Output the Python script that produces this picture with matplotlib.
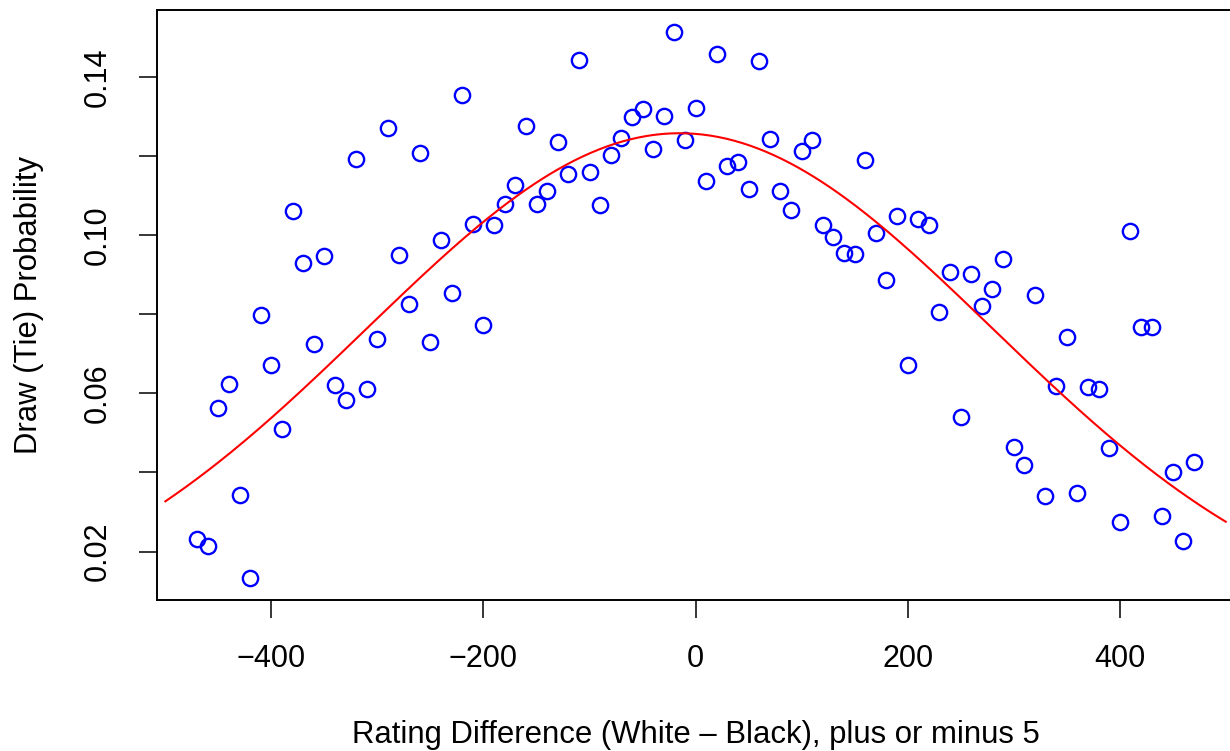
import numpy as np
import matplotlib
matplotlib.use("Agg")
import matplotlib.pyplot as plt

plt.rcParams['font.family'] = ['Liberation Sans', 'DejaVu Sans']

# rating difference bins (white - black), every 10 points
rating_diff = np.arange(-470, 471, 10)

# observed draw proportion in each bin
draw_prob = [
    0.0232, 0.0213, 0.0563, 0.0624, 0.0344, 0.0134, 0.0799, 0.0671, 0.0511, 0.1061,
    0.0930, 0.0726, 0.0947, 0.0621, 0.0583, 0.1193, 0.0612, 0.0737, 0.1271, 0.0951,
    0.0826, 0.1208, 0.0730, 0.0988, 0.0854, 0.1355, 0.1028, 0.0773, 0.1026, 0.1080,
    0.1126, 0.1277, 0.1080, 0.1112, 0.1235, 0.1154, 0.1444, 0.1161, 0.1076, 0.1202,
    0.1246, 0.1300, 0.1319, 0.1218, 0.1302, 0.1515, 0.1241, 0.1322, 0.1136, 0.1458,
    0.1176, 0.1184, 0.1116, 0.1440, 0.1243, 0.1111, 0.1064, 0.1214, 0.1241, 0.1027,
    0.0996, 0.0956, 0.0953, 0.1191, 0.1005, 0.0886, 0.1049, 0.0671, 0.1041, 0.1026,
    0.0805, 0.0906, 0.0541, 0.0902, 0.0821, 0.0864, 0.0939, 0.0465, 0.0418, 0.0848,
    0.0341, 0.0619, 0.0743, 0.0349, 0.0617, 0.0611, 0.0462, 0.0276, 0.1011, 0.0769,
    0.0769, 0.0290, 0.0400, 0.0228, 0.0426,
]

# fitted bell curve (peak height, centre, spread)
fit_peak = 0.1258
fit_mu = -15.0
fit_sd = 295.5

x_curve = np.linspace(-500, 500, 400)
y_curve = fit_peak * np.exp(-(x_curve - fit_mu) ** 2 / (2 * fit_sd ** 2))

fig = plt.figure(figsize=(12.3, 7.51), dpi=100)
ax = fig.add_axes([0.1279, 0.2017, 0.8752, 0.7853])

ax.plot(rating_diff, draw_prob, 'o', mfc='none', mec='#0000ff', ms=11, mew=1.7)
ax.plot(x_curve, y_curve, color='#ff0000', lw=1.5)

# R style axis limits: data range plus 4 percent
xr = rating_diff.max() - rating_diff.min()
ax.set_xlim(rating_diff.min() - 0.04 * xr, rating_diff.max() + 0.04 * xr)
yr = max(draw_prob) - min(draw_prob)
ax.set_ylim(min(draw_prob) - 0.04 * yr, max(draw_prob) + 0.04 * yr)

ax.set_xticks([-400, -200, 0, 200, 400])
ax.set_yticks([0.02, 0.04, 0.06, 0.08, 0.10, 0.12, 0.14])
ax.set_yticklabels(['0.02', '', '0.06', '', '0.10', '', '0.14'], rotation=90, va='center')

for s in ax.spines.values():
    s.set_linewidth(1.4)
ax.tick_params(length=13, width=1.1, pad=19, labelsize=22, direction='out')

ax.set_xlabel('Rating Difference (White \u2013 Black), plus or minus 5', fontsize=22.4, labelpad=33)
ax.set_ylabel('Draw (Tie) Probability', fontsize=22.4, labelpad=28)

fig.savefig('out.png', dpi=100)
